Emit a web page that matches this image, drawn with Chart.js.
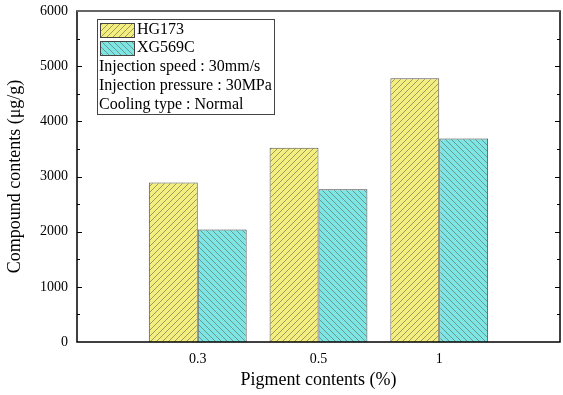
<!DOCTYPE html>
<html>
<head>
<meta charset="utf-8">
<script src="https://cdn.jsdelivr.net/npm/chart.js@4.4.0/dist/chart.umd.min.js"></script>
<style>
  body { margin: 0; background: #fff; }
  #wrap { width: 563px; height: 395px; }
</style>
</head>
<body>
<div id="wrap"><canvas id="myChart"></canvas></div>
<script>
// data
var pigment = ['', '0.3', '0.5', '1', ''];
var hg173 = [null, 2890, 3520, 4780, null];
var xg569c = [null, 2040, 2770, 3690, null];
var legendNotes = ['Injection speed : 30mm/s', 'Injection pressure : 30MPa', 'Cooling type : Normal'];

var serif = "'Liberation Serif', 'Times New Roman', serif";

// hatch patterns
function hatch(bg, dir) {
    var c = document.createElement('canvas');
    c.width = 6; c.height = 6;
    var g = c.getContext('2d');
    g.fillStyle = bg;
    g.fillRect(0, 0, 6, 6);
    g.strokeStyle = 'rgba(90,90,70,0.7)';
    g.lineWidth = 0.8;
    g.beginPath();
    if (dir > 0) {
        g.moveTo(0, 6); g.lineTo(6, 0);
        g.moveTo(-3, 3); g.lineTo(3, -3);
        g.moveTo(3, 9); g.lineTo(9, 3);
    } else {
        g.moveTo(0, 0); g.lineTo(6, 6);
        g.moveTo(-3, 3); g.lineTo(3, 9);
        g.moveTo(3, -3); g.lineTo(9, 3);
    }
    g.stroke();
    return document.createElement('canvas').getContext('2d').createPattern(c, 'repeat');
}
var yellowHatch = hatch('#f4ee7e', 1);
var cyanHatch = hatch('#7de6e4', -1);

// frame, inward ticks, legend box
var extras = {
    id: 'extras',
    afterDraw: function (chart) {
        var ctx = chart.ctx;
        var a = chart.chartArea;
        var y = chart.scales.y;
        ctx.save();
        ctx.strokeStyle = '#000';
        ctx.lineWidth = 1;
        for (var v = 500; v < 6000; v += 500) {
            var py = Math.round(y.getPixelForValue(v)) + 0.5;
            var len = (v % 1000 === 0) ? 5 : 3;
            ctx.beginPath();
            ctx.moveTo(a.left, py); ctx.lineTo(a.left + len, py);
            ctx.moveTo(a.right, py); ctx.lineTo(a.right - len, py);
            ctx.stroke();
        }
        ctx.lineWidth = 1.5;
        ctx.strokeRect(a.left, a.top, a.right - a.left, a.bottom - a.top);
        ctx.strokeStyle = '#666';
        ctx.lineWidth = 2;
        ctx.beginPath();
        ctx.moveTo(a.left, a.top); ctx.lineTo(a.right, a.top);
        ctx.stroke();

        // legend
        var lx = 97, ly = 19;
        ctx.fillStyle = '#fff';
        ctx.fillRect(lx, ly, 177, 95);
        ctx.strokeStyle = '#444';
        ctx.lineWidth = 1;
        ctx.strokeRect(lx + 0.5, ly + 0.5, 177, 95);
        ctx.fillStyle = yellowHatch;
        ctx.fillRect(lx + 3, ly + 4, 34, 14);
        ctx.strokeRect(lx + 3.5, ly + 4.5, 34, 14);
        ctx.fillStyle = cyanHatch;
        ctx.fillRect(lx + 3, ly + 22, 34, 14);
        ctx.strokeRect(lx + 3.5, ly + 22.5, 34, 14);
        ctx.fillStyle = '#000';
        ctx.font = '16px ' + serif;
        ctx.textBaseline = 'middle';
        ctx.fillText('HG173', lx + 40, ly + 11);
        ctx.fillText('XG569C', lx + 40, ly + 29);
        for (var i = 0; i < legendNotes.length; i++) {
            ctx.fillText(legendNotes[i], lx + 2, ly + 48 + i * 19);
        }
        ctx.restore();
    }
};

var ctx = document.getElementById('myChart').getContext('2d');
var chart = new Chart(ctx, {
    type: 'bar',
    data: {
        labels: pigment,
        datasets: [{
            label: 'HG173',
            data: hg173,
            backgroundColor: yellowHatch,
            borderColor: '#555',
            borderWidth: 1,
            categoryPercentage: 0.81,
            barPercentage: 1
        }, {
            label: 'XG569C',
            data: xg569c,
            backgroundColor: cyanHatch,
            borderColor: '#444',
            borderWidth: 1,
            categoryPercentage: 0.81,
            barPercentage: 1
        }]
    },
    options: {
        responsive: true,
        maintainAspectRatio: false,
        animation: false,
        layout: { padding: { top: 11, right: 3 } },
        plugins: {
            legend: { display: false },
            tooltip: { enabled: false }
        },
        scales: {
            x: {
                offset: false,
                grid: { display: false, drawTicks: false },
                border: { display: false },
                ticks: { color: '#000', font: { family: serif, size: 14 }, padding: 9, maxRotation: 0 },
                title: { display: true, text: 'Pigment contents (%)', color: '#000', font: { family: serif, size: 18 }, padding: { top: 4 } },
                afterFit: function (s) { s.height = 53; s.paddingLeft = 0; s.paddingRight = 0; }
            },
            y: {
                min: 0,
                max: 6000,
                ticks: {
                    stepSize: 1000, color: '#000', font: { family: serif, size: 14 }, padding: 9,
                    callback: function (v) { return String(v); }
                },
                grid: { display: false, drawTicks: false },
                border: { display: false },
                title: { display: true, text: 'Compound contents (μg/g)', color: '#000', font: { family: serif, size: 18 }, padding: { bottom: 4 } },
                afterFit: function (s) { s.width = 77; s.paddingTop = 0; s.paddingBottom = 0; }
            }
        }
    },
    plugins: [extras]
});
</script>
</body>
</html>
